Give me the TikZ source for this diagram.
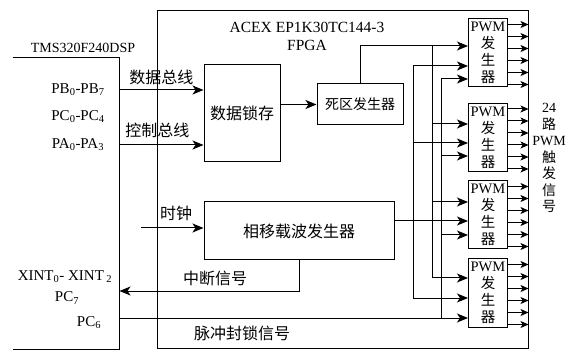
\documentclass[tikz,border=0pt]{standalone}
\usepackage{fontspec}
\setmainfont{Liberation Serif}
\newfontfamily\cjk{Noto Sans CJK SC}
\usetikzlibrary{arrows.meta}

\begin{document}
\begin{tikzpicture}[x=1pt,y=-1pt,line width=1pt,
    >={Stealth[length=11pt,width=9pt,inset=3pt]},
    blk/.style={draw, inner sep=0pt, font=\fontsize{16}{18}\selectfont\cjk},
    pwm/.style={draw, minimum width=39pt, minimum height=68pt, inner sep=0pt,
                align=center, font=\fontsize{14.5}{17}\selectfont},
    lbl/.style={font=\fontsize{16}{18}\selectfont\cjk},
    pin/.style={font=\fontsize{15}{17}\selectfont},
    outarr/.style={-{Stealth[length=8pt,width=7pt,inset=2pt]}}]
  \useasboundingbox (0,0) rectangle (571,350);

  \node[draw, minimum width=371pt, minimum height=337pt] (fpga) at (342.5,179.5) {};
  \node[align=center, font=\fontsize{15.5}{18}\selectfont] (ftitle) at (307,36)
    {ACEX EP1K30TC144-3\\FPGA};

  \node[minimum width=106pt, minimum height=291pt] (dsp) at (66,203.5) {};
  \draw (dsp.north west) -- (dsp.north east) -- (dsp.south east) -- (dsp.south west);
  \node[font=\fontsize{14}{16}\selectfont] (dname) at (83,48) {TMS320F240DSP};
  \node[pin] (pb) at (78,90) {PB\textsubscript{0}-PB\textsubscript{7}};
  \node[pin] (pc) at (78,117) {PC\textsubscript{0}-PC\textsubscript{4}};
  \node[pin] (pa) at (78,145) {PA\textsubscript{0}-PA\textsubscript{3}};
  \node[pin] (xint) at (65,277) {XINT\textsubscript{0}- XINT\,\textsubscript{2}};
  \node[pin] (pc7) at (67,298) {PC\textsubscript{7}};
  \node[pin] (pc6) at (89,323) {PC\textsubscript{6}};

  \node[blk, minimum width=76pt, minimum height=97pt] (latch) at (242,113.5) {数据锁存};
  \node[blk, minimum width=86pt, minimum height=41pt, font=\fontsize{14}{16}\selectfont\cjk]
    (dz) at (360,104.5) {死区发生器};
  \node[blk, minimum width=190pt, minimum height=58pt] (carr) at (299,231) {相移载波发生器};

  \node[pwm] (p1) at (488,53) {PWM\\{\cjk 发}\\{\cjk 生}\\{\cjk 器}};
  \node[pwm] (p2) at (488,137.5) {PWM\\{\cjk 发}\\{\cjk 生}\\{\cjk 器}};
  \node[pwm] (p3) at (488,215) {PWM\\{\cjk 发}\\{\cjk 生}\\{\cjk 器}};
  \node[pwm] (p4) at (488,293) {PWM\\{\cjk 发}\\{\cjk 生}\\{\cjk 器}};

  \node[align=center, font=\fontsize{14}{16.5}\selectfont] (trig) at (549,158)
    {24\\{\cjk 路}\\PWM\\{\cjk 触}\\{\cjk 发}\\{\cjk 信}\\{\cjk 号}};

  \coordinate (d) at (119,90);
  \coordinate (c) at (119,145);
  \draw[->] (d) -- (latch.west |- d) node[lbl, midway, above=1pt] {数据总线};
  \draw[->] (c) -- (latch.west |- c) node[lbl, midway, above=3pt, xshift=-4pt] {控制总线};
  \draw[->] (latch.east |- dz.west) -- (dz.west);

  \coordinate (clk) at (141,228);
  \draw[->] (clk) -- (carr.west |- clk);
  \node[lbl] (clkl) at (176,213) {时钟};

  \coordinate (irq) at (299,291);
  \draw[->] (carr.south) -- (irq) -- (dsp.east |- irq);
  \node[lbl] (irql) at (215,278) {中断信号};

  \foreach \i/\ya/\yb/\yc in {1/66/46/79, 2/143/124/156, 3/221/202/235, 4/298/278/318} {
    \coordinate (a\i) at (413,\ya);
    \coordinate (b\i) at (432,\yb);
    \coordinate (c\i) at (441,\yc);
    \draw[->] (a\i) -- (p\i.west |- a\i);
    \draw[->] (b\i) -- (p\i.west |- b\i);
    \draw[->] (c\i) -- (p\i.west |- c\i);
    \foreach \k in {0,...,5} {
      \coordinate (o) at ([yshift=-6pt-\k*12pt]p\i.north east);
      \draw[outarr] (o) -- (fpga.east |- o);
    }
  }
  \draw (a1) -- (a4);
  \draw (dz.north) |- (b1) -- (b4);
  \draw (c1) -- (c4);
  \draw (carr.east |- a3) -- (a3);
  \draw (dsp.east |- c4) -- (c4);
  \node[lbl] (blkl) at (242,333) {脉冲封锁信号};
\end{tikzpicture}
\end{document}
